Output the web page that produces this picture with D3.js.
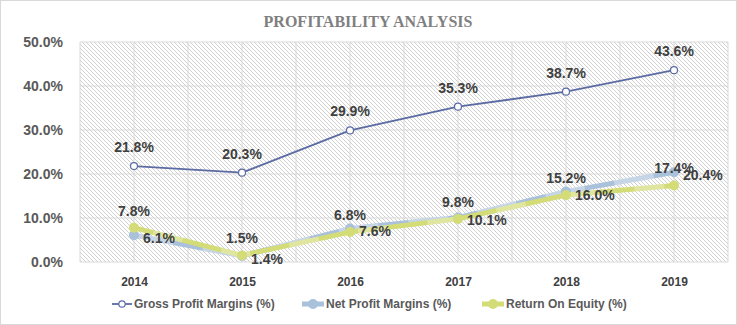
<!DOCTYPE html>
<html><head><meta charset="utf-8">
<script src="https://cdn.jsdelivr.net/npm/d3@7"></script>
<style>html,body{margin:0;padding:0;background:#fff;}</style>
</head><body>
<svg id="c" width="737" height="325"></svg>
<script>
const years = ["2014","2015","2016","2017","2018","2019"];
const gross = [21.8, 20.3, 29.9, 35.3, 38.7, 43.6];
const netMargin = [6.1, 1.4, 7.6, 10.1, 16.0, 20.4];
const roe = [7.8, 1.5, 6.8, 9.8, 15.2, 17.4];
const yTicks = [0, 10, 20, 30, 40, 50];
const seriesNames = ["Gross Profit Margins (%)", "Net Profit Margins (%)", "Return On Equity (%)"];

(function(){
const svg = d3.select("#c");
const W = 737, H = 325;
const pLeft = 80, pRight = 728, pTop = 42, pBottom = 262;

svg.append("rect").attr("x",0.5).attr("y",0.5).attr("width",W-1).attr("height",H-1)
  .attr("fill","#fff").attr("stroke","#d9d9d9");

const defs = svg.append("defs");
const pat = defs.append("pattern").attr("id","hatch").attr("patternUnits","userSpaceOnUse")
  .attr("width",4).attr("height",4);
pat.append("rect").attr("width",4).attr("height",4).attr("fill","#fff");
pat.append("path").attr("d","M-1,-1 L5,5 M-1,3 L1,5 M3,-1 L5,1")
  .attr("stroke","#c4c4c4").attr("stroke-width",0.8);

const x = d3.scalePoint().domain(years).range([pLeft, pRight]).padding(0.5);
const y = d3.scaleLinear().domain([0, 50]).range([pBottom, pTop]);
const step = x.step();

svg.append("rect").attr("x",pLeft).attr("y",pTop).attr("width",pRight-pLeft).attr("height",pBottom-pTop)
  .attr("fill","url(#hatch)");

// gridlines
const g = svg.append("g");
yTicks.forEach(t => {
  g.append("line").attr("x1",pLeft).attr("x2",pRight).attr("y1",y(t)).attr("y2",y(t))
    .attr("stroke","#d9d9d9").attr("stroke-width",1);
});
const vx = [];
years.forEach((yr,i) => { vx.push(x(yr)-step/2); vx.push(x(yr)); });
vx.push(pRight);
vx.forEach(v => {
  g.append("line").attr("x1",v).attr("x2",v).attr("y1",pTop).attr("y2",pBottom)
    .attr("stroke","#d9d9d9").attr("stroke-width",1);
});

// axes
const yAxis = d3.axisLeft(y).tickValues(yTicks).tickFormat(d => d.toFixed(1) + "%").tickSize(0).tickPadding(0);
const ya = svg.append("g").attr("transform",`translate(63,0)`).call(yAxis);
ya.select(".domain").remove();
ya.selectAll("text").attr("font-family","Liberation Sans, Arial, sans-serif").attr("font-weight","bold")
  .attr("font-size","14px").attr("fill","#595959").attr("dy","0.35em");

const xAxis = d3.axisBottom(x).tickSize(0).tickPadding(0);
const xa = svg.append("g").attr("transform",`translate(0,277)`).call(xAxis);
xa.select(".domain").remove();
xa.selectAll("text").attr("font-family","Liberation Sans, Arial, sans-serif").attr("font-weight","bold")
  .attr("font-size","12px").attr("fill","#404040").attr("dy","0.71em");

// title
svg.append("text").attr("x",368).attr("y",27).attr("text-anchor","middle")
  .attr("font-family","Liberation Serif, serif").attr("font-weight","bold").attr("font-size","16px")
  .attr("fill","#7f7f7f").text("PROFITABILITY ANALYSIS");

const line = d3.line().x((d,i)=>x(years[i])).y(d=>y(d));
const netColor = "#a9c1da", roeColor = "#d3dc76", grossColor = "#5b6ba3";

// Net line
svg.append("path").datum(netMargin).attr("d",line).attr("fill","none")
  .attr("stroke",netColor).attr("stroke-width",5).attr("stroke-linejoin","round");
svg.append("path").datum(netMargin).attr("d",line).attr("fill","none")
  .attr("stroke","#ffffff").attr("stroke-opacity",0.35).attr("stroke-width",5)
  .attr("stroke-dasharray","40 30");
svg.selectAll(".np").data(netMargin).enter().append("circle")
  .attr("cx",(d,i)=>x(years[i])).attr("cy",d=>y(d)).attr("r",5).attr("fill",netColor);

// ROE line
svg.append("path").datum(roe).attr("d",line).attr("fill","none")
  .attr("stroke",roeColor).attr("stroke-width",5).attr("stroke-linejoin","round");
svg.append("path").datum(roe).attr("d",line).attr("fill","none")
  .attr("stroke","#ffffff").attr("stroke-opacity",0.3).attr("stroke-width",5)
  .attr("stroke-dasharray","30 40").attr("stroke-dashoffset",-20);
svg.selectAll(".rp").data(roe).enter().append("circle")
  .attr("cx",(d,i)=>x(years[i])).attr("cy",d=>y(d)).attr("r",5).attr("fill",roeColor);

// Gross line
svg.append("path").datum(gross).attr("d",line).attr("fill","none")
  .attr("stroke",grossColor).attr("stroke-width",1.8);
svg.selectAll(".gp").data(gross).enter().append("circle")
  .attr("cx",(d,i)=>x(years[i])).attr("cy",d=>y(d)).attr("r",3.5)
  .attr("fill","#fff").attr("stroke",grossColor).attr("stroke-width",1.2);

// labels
const lf = sel => sel.attr("font-family","Liberation Sans, Arial, sans-serif").attr("font-weight","bold")
  .attr("font-size","14px").attr("fill","#404040");
svg.selectAll(".gl").data(gross).enter().append("text")
  .attr("x",(d,i)=>x(years[i])).attr("y",d=>y(d)-19).attr("dy","0.35em").attr("text-anchor","middle")
  .call(lf).text(d=>d.toFixed(1)+"%");
svg.selectAll(".rl").data(roe).enter().append("text")
  .attr("x",(d,i)=>x(years[i])).attr("y",d=>y(d)-17).attr("dy","0.35em").attr("text-anchor","middle")
  .call(lf).text(d=>d.toFixed(1)+"%");
svg.selectAll(".nl").data(netMargin).enter().append("text")
  .attr("x",(d,i)=>x(years[i])+9).attr("y",(d,i)=>y(d)+3).attr("dy","0.35em").attr("text-anchor","start")
  .call(lf).text(d=>d.toFixed(1)+"%");

// legend
const ly = 304;
const leg = [
  {x:112, color:grossColor, type:"gross"},
  {x:302, color:netColor, type:"thick"},
  {x:482, color:roeColor, type:"thick"}
];
leg.forEach((l,i) => {
  const lg = svg.append("g");
  if (l.type === "gross") {
    lg.append("line").attr("x1",l.x).attr("x2",l.x+20).attr("y1",ly).attr("y2",ly)
      .attr("stroke",l.color).attr("stroke-width",1.8);
    lg.append("circle").attr("cx",l.x+10).attr("cy",ly).attr("r",3.2).attr("fill","#fff")
      .attr("stroke",l.color).attr("stroke-width",1.2);
  } else {
    lg.append("line").attr("x1",l.x).attr("x2",l.x+22).attr("y1",ly).attr("y2",ly)
      .attr("stroke",l.color).attr("stroke-width",5);
    lg.append("circle").attr("cx",l.x+11).attr("cy",ly).attr("r",5).attr("fill",l.color);
  }
  lg.append("text").attr("x",l.x + (l.type==="gross"?22:24)).attr("y",ly).attr("dy","0.35em")
    .attr("font-family","Liberation Sans Narrow, Arial Narrow, Liberation Sans, sans-serif")
    .attr("font-weight","bold").attr("font-size","12px").attr("fill","#595959").text(seriesNames[i]);
});
})();
</script>
</body></html>
